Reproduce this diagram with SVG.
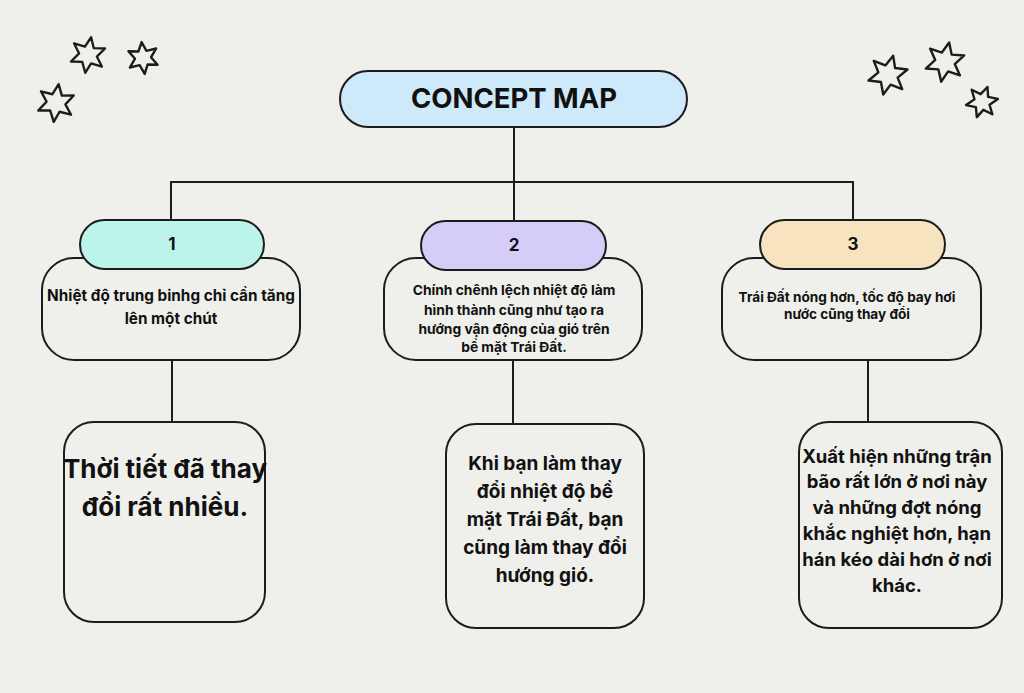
<svg xmlns="http://www.w3.org/2000/svg" width="1024" height="693" viewBox="0 0 1024 693">
<style>
.bg{fill:#efefeb}
.box{fill:#efefeb;stroke:#1c1c1c;stroke-width:2}
.pill{stroke:#1c1c1c;stroke-width:2}
.conn{fill:none;stroke:#1c1c1c;stroke-width:2}
.star{fill:none;stroke:#1c1c1c;stroke-linejoin:round}
text{font-family:Inter,"Liberation Sans",sans-serif;font-weight:700;fill:#111;text-anchor:middle}
</style>
<defs>
<path id="star" d="M0,-1 L0.25,-0.43 L0.87,-0.52 L0.5,0 L0.87,0.5 L0.25,0.43 L0.02,1 L-0.25,0.43 L-0.87,0.52 L-0.5,0 L-0.87,-0.5 L-0.25,-0.43 Z"/>
</defs>
<rect class="bg" x="0" y="0" width="1024" height="693"/>
<g id="stars">
<use href="#star" class="star" transform="translate(88,55) rotate(10) scale(18)" style="stroke-width:0.13"/>
<use href="#star" class="star" transform="translate(143,58) rotate(-5) scale(16)" style="stroke-width:0.15"/>
<use href="#star" class="star" transform="translate(56,103) rotate(8) scale(19)" style="stroke-width:0.125"/>
<use href="#star" class="star" transform="translate(888,75) rotate(15) scale(20)" style="stroke-width:0.12"/>
<use href="#star" class="star" transform="translate(945,62) rotate(12) scale(20)" style="stroke-width:0.12"/>
<use href="#star" class="star" transform="translate(982,102) rotate(20) scale(16)" style="stroke-width:0.15"/>
</g>
<g id="connectors">
<path class="conn" d="M514,127 V182 M171,220 V182 H853 V220 M514,182 V221"/>
<path class="conn" d="M172,360 V422"/>
<path class="conn" d="M513,360 V423"/>
<path class="conn" d="M868,360 V422"/>
</g>
<g id="title">
<rect class="pill" x="340" y="71" width="347" height="56" rx="28" fill="#cde9fa"/>
<text x="514" y="108" style="font-size:27.5px">CONCEPT MAP</text>
</g>
<g id="node1">
<rect class="box" x="42" y="258" width="258" height="102" rx="32"/>
<rect class="pill" x="80" y="220" width="184" height="49" rx="24.5" fill="#bdf4ea"/>
<text x="172" y="250" style="font-size:17px">1</text>
<text x="171" y="301" style="font-size:15.3px">Nhiệt độ trung binhg chỉ cần tăng</text>
<text x="171" y="324" style="font-size:15.3px">lên một chút</text>
</g>
<g id="node2">
<rect class="box" x="384" y="258" width="258" height="102" rx="32"/>
<rect class="pill" x="421" y="221" width="185" height="49" rx="24.5" fill="#d5cdf7"/>
<text x="514" y="251" style="font-size:17px">2</text>
<g style="font-size:13.8px">
<text x="514" y="295">Chính chênh lệch nhiệt độ làm</text>
<text x="514" y="315">hình thành cũng như tạo ra</text>
<text x="514" y="334">hướng vận động của gió trên</text>
<text x="514" y="352">bề mặt Trái Đất.</text>
</g>
</g>
<g id="node3">
<rect class="box" x="722" y="258" width="259" height="102" rx="32"/>
<rect class="pill" x="760" y="220" width="185" height="49" rx="24.5" fill="#f7e3bd"/>
<text x="853" y="250" style="font-size:17px">3</text>
<text x="847" y="302" style="font-size:13.6px">Trái Đất nóng hơn, tốc độ bay hơi</text>
<text x="847" y="319" style="font-size:13.6px">nước cũng thay đổi</text>
</g>
<g id="node4">
<rect class="box" x="64" y="422" width="201" height="200" rx="30"/>
<text x="165" y="478" style="font-size:26px">Thời tiết đã thay</text>
<text x="165" y="516" style="font-size:26px">đổi rất nhiều.</text>
</g>
<g id="node5">
<rect class="box" x="446" y="424" width="198" height="204" rx="30"/>
<g style="font-size:19px">
<text x="545" y="470">Khi bạn làm thay</text>
<text x="545" y="498">đổi nhiệt độ bề</text>
<text x="545" y="526">mặt Trái Đất, bạn</text>
<text x="545" y="554">cũng làm thay đổi</text>
<text x="545" y="582">hướng gió.</text>
</g>
</g>
<g id="node6">
<rect class="box" x="799" y="422" width="203" height="206" rx="30"/>
<g style="font-size:18.5px">
<text x="897" y="463">Xuất hiện những trận</text>
<text x="897" y="488">bão rất lớn ở nơi này</text>
<text x="897" y="514">và những đợt nóng</text>
<text x="897" y="540">khắc nghiệt hơn, hạn</text>
<text x="897" y="566">hán kéo dài hơn ở nơi</text>
<text x="897" y="592">khác.</text>
</g>
</g>
</svg>
